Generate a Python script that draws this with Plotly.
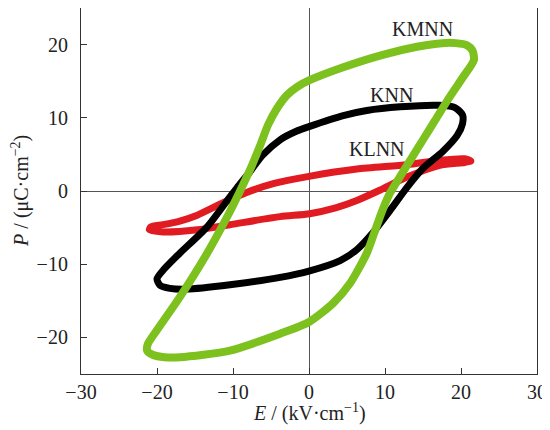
import plotly.graph_objects as go

# KMNN (green) loop: upper branch from +Emax going left, then lower branch back
kmnn_E = [21.7, 21.5, 20.8, 19.3, 17.5, 14.2, 9.7, 4.5, 0.0, -1.6, -2.9, -4.2, -5.4, -6.4, -7.5, -8.7, -9.3,
          -10.4, -13.4, -17.0, -20.0, -21.2, -21.3, -20.5, -19.0, -17.0, -10.4, -3.8, 0.0, 3.2, 5.4, 7.6,
          8.6, 9.6, 10.6, 12.0, 13.5, 15.0, 16.5, 18.6, 20.3, 21.7]
kmnn_P = [17.9, 19.2, 19.9, 20.2, 20.2, 19.7, 18.6, 16.9, 15.1, 14.2, 13.1, 11.3, 9.0, 6.3, 3.5, 0.8, -0.5,
          -2.8, -8.5, -14.5, -19.0, -20.9, -21.8, -22.4, -22.7, -22.7, -21.8, -19.5, -17.9, -15.3, -12.6, -8.5,
          -5.7, -2.8, -0.4, 2.0, 4.5, 7.0, 9.5, 13.0, 15.6, 17.9]

# KNN (black) loop
knn_E = [20.2, 19.2, 17.2, 12.0, 7.6, 4.5, 0.0, -1.6, -3.8, -6.1, -7.8, -9.5, -10.4, -13.4, -17.0, -19.0, -20.0,
         -19.6, -18.3, -16.1, -10.4, -3.8, 0.1, 4.1, 6.3, 8.4, 10.7, 12.9, 15.0, 17.6, 19.5, 20.2, 20.2]
knn_P = [10.4, 11.4, 11.7, 11.5, 11.0, 10.3, 8.8, 8.2, 7.0, 4.9, 2.6, 0.4, -0.8, -4.9, -8.5, -10.6, -12.0,
         -12.9, -13.3, -13.4, -12.8, -11.8, -10.9, -9.5, -8.0, -5.7, -2.6, 0.5, 3.1, 5.4, 7.6, 9.2, 10.4]

# KLNN (red) loop
klnn_E = [21.3, 20.5, 17.2, 12.9, 6.3, 0.0, -4.7, -8.2, -11.3, -14.7, -17.0, -19.2, -20.8, -21.0,
          -19.2, -14.7, -10.4, -3.8, 0.1, 3.5, 6.3, 9.3, 12.9, 17.2, 20.5, 21.3]
klnn_P = [4.1, 4.4, 4.2, 3.6, 3.0, 2.0, 1.0, -0.2, -1.6, -3.3, -4.1, -4.6, -4.9, -5.3,
          -5.6, -5.3, -4.6, -3.5, -3.1, -2.3, -1.3, 0.1, 1.9, 3.5, 3.9, 4.1]

labels = ["KMNN", "KNN", "KLNN"]
label_E = [14.9, 10.9, 8.9]
label_P = [22.1, 13.1, 5.7]

x_ticks = [-30, -20, -10, 0, 10, 20, 30]
y_ticks = [-20, -10, 0, 10, 20]

serif = "Liberation Serif, Times New Roman, serif"
FS = 20

fig = go.Figure()
fig.add_trace(go.Scatter(x=klnn_E, y=klnn_P, mode="lines",
                         line=dict(color="#e11b22", width=7, shape="spline", smoothing=0.7)))
fig.add_trace(go.Scatter(x=knn_E, y=knn_P, mode="lines",
                         line=dict(color="#000000", width=7, shape="spline", smoothing=0.7)))
fig.add_trace(go.Scatter(x=kmnn_E, y=kmnn_P, mode="lines",
                         line=dict(color="#7dc11f", width=8, shape="spline", smoothing=0.7)))

for t, ex, py in zip(labels, label_E, label_P):
    fig.add_annotation(x=ex, y=py, text=t, showarrow=False,
                       font=dict(family=serif, size=FS, color="#222"))

# axis titles
fig.add_annotation(xref="paper", yref="paper", x=0.5, y=-0.104, xanchor="center", yanchor="middle",
                   text="<i>E</i> / (kV·cm<sup>−1</sup>)", showarrow=False,
                   font=dict(family=serif, size=FS, color="#222"))
fig.add_annotation(xref="paper", yref="paper", x=-0.134, y=0.5, xanchor="center", yanchor="middle",
                   text="<i>P</i> / (μC·cm<sup>−2</sup>)", showarrow=False, textangle=-90,
                   font=dict(family=serif, size=FS, color="#222"))

axis_common = dict(showline=True, linecolor="#333", linewidth=1.2, mirror=True,
                   ticks="inside", ticklen=6, tickcolor="#333", showgrid=False,
                   zeroline=True, zerolinecolor="#555", zerolinewidth=1, automargin=False,
                   tickfont=dict(family=serif, size=FS, color="#222"))

fig.update_xaxes(range=[-30, 30], tickvals=x_ticks,
                 ticktext=[str(v).replace("-", "\u2212") for v in x_ticks],
                 ticklabelstandoff=0, **axis_common)
fig.update_yaxes(range=[-25, 25], tickvals=y_ticks,
                 ticktext=[str(v).replace("-", "\u2212") for v in y_ticks],
                 ticklabelstandoff=8, **axis_common)

# page body has an 8px default margin, so the figure is offset by 8px
fig.update_layout(width=550, height=430, showlegend=False,
                  margin=dict(l=73, r=21, t=0, b=64),
                  plot_bgcolor="white", paper_bgcolor="white")

fig.write_html("out.html")
